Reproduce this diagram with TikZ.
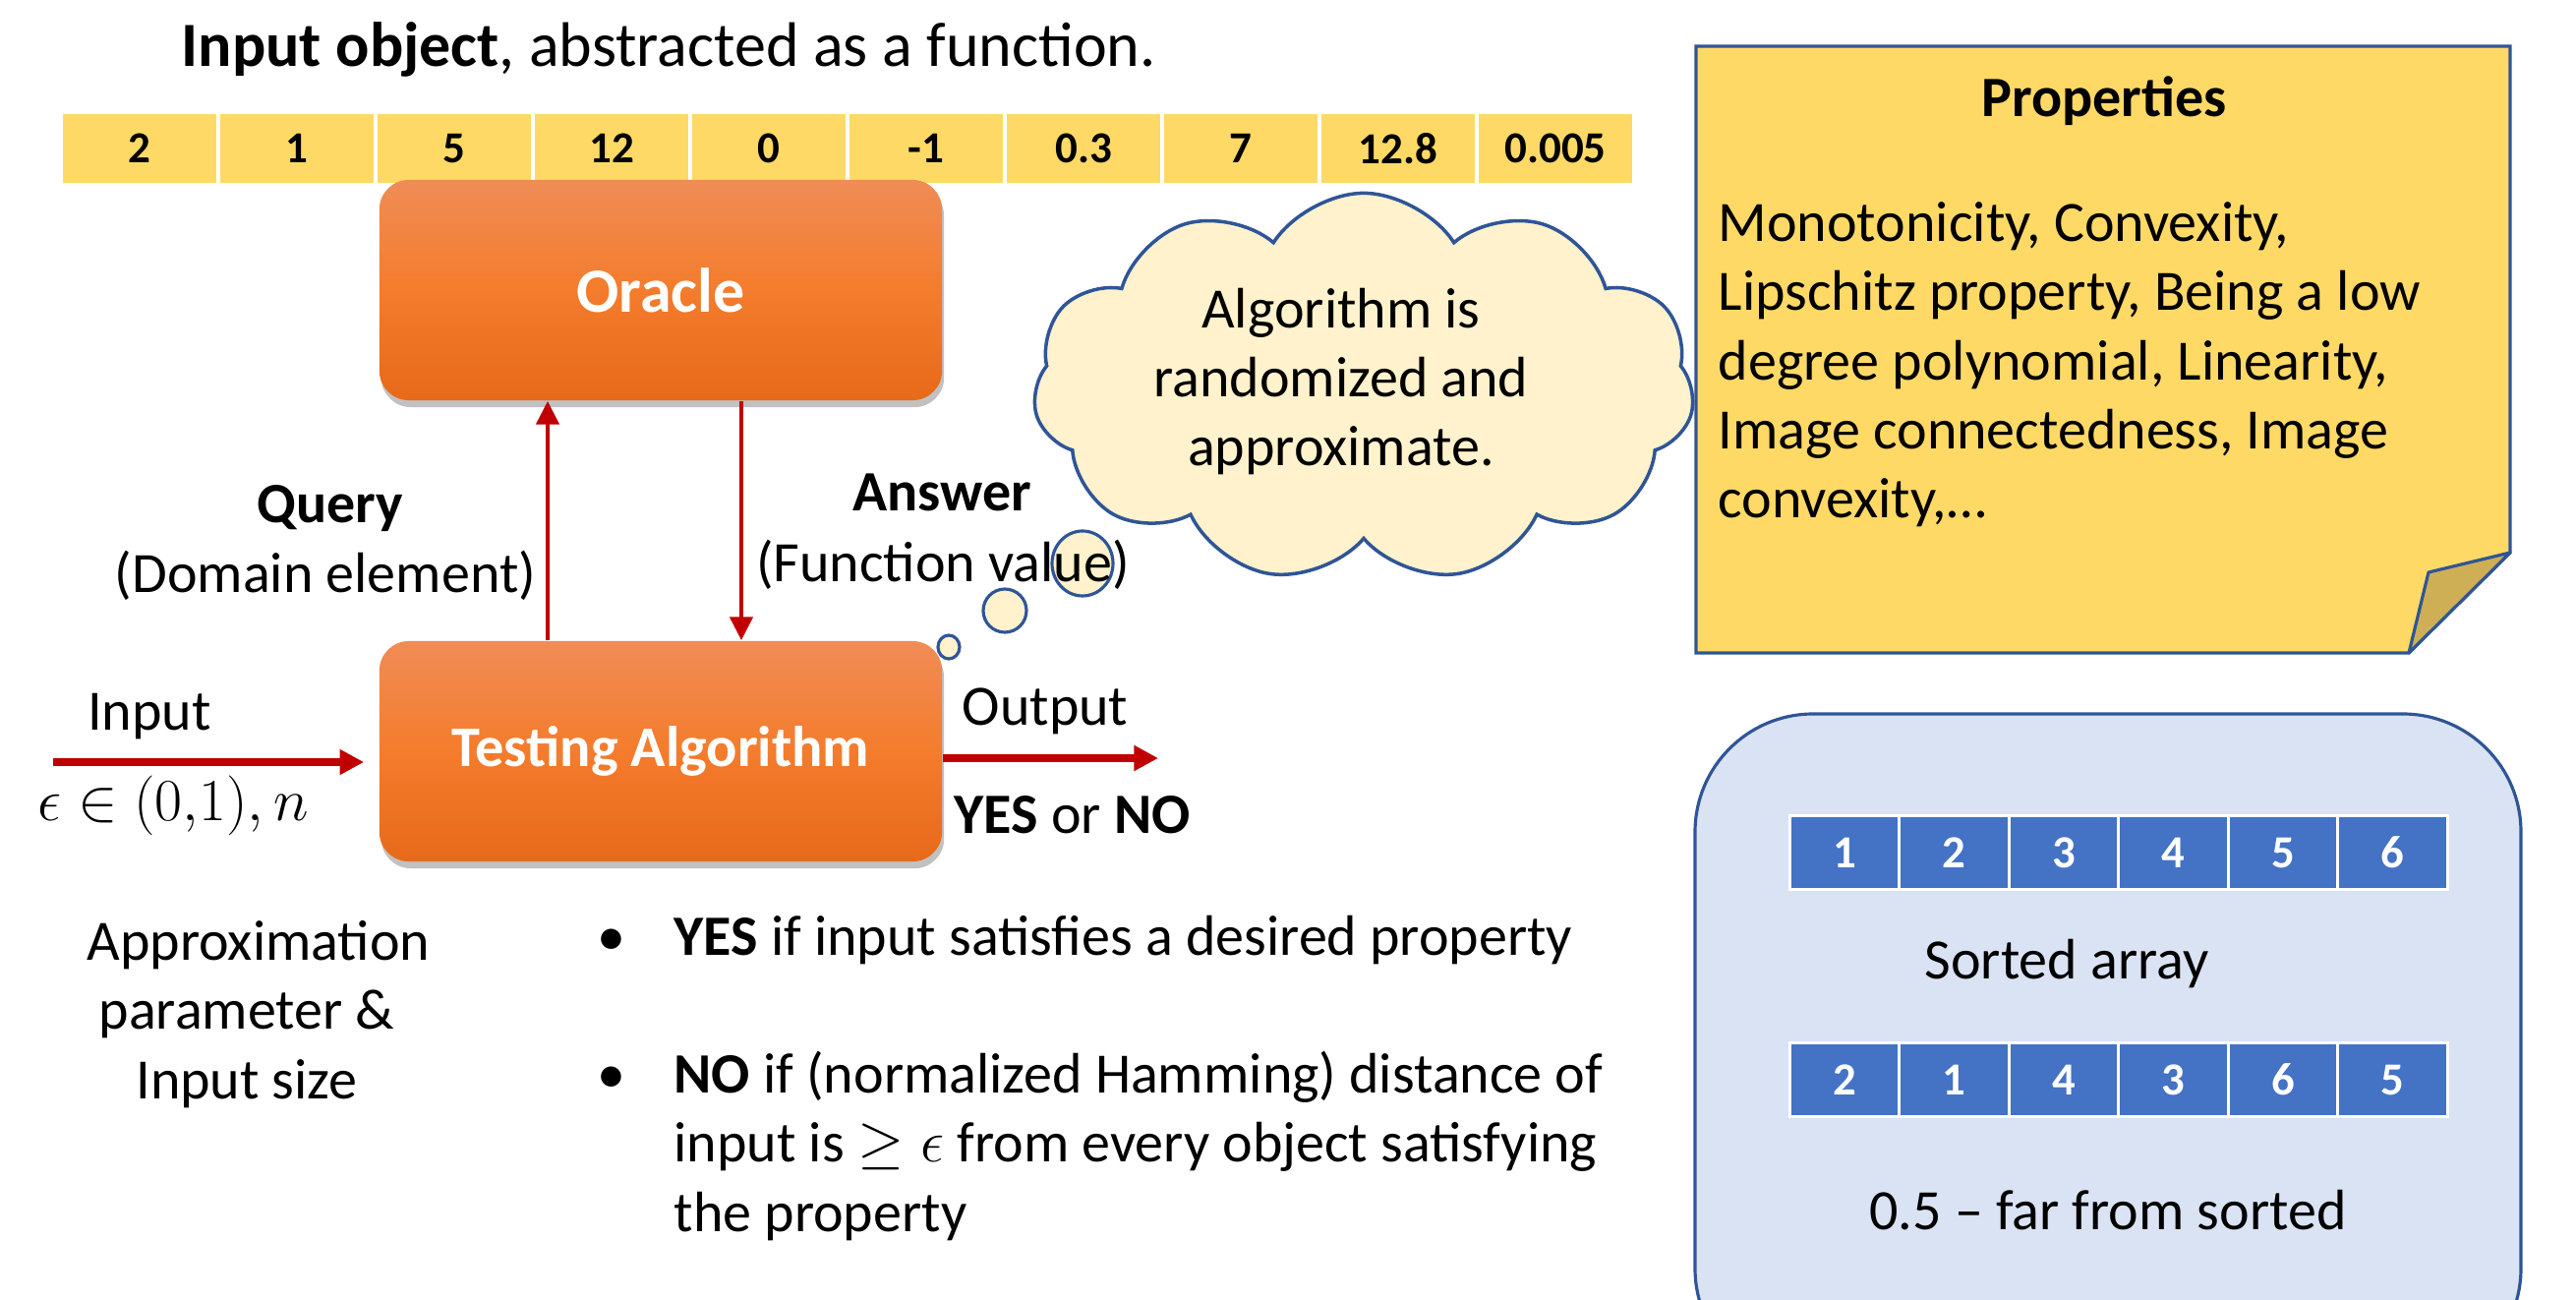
\documentclass[tikz,border=0pt]{standalone}
\usepackage{fontspec}
\setmainfont{Carlito}
\usetikzlibrary{arrows.meta,shapes.symbols,shadows,calc}
\definecolor{gold}{HTML}{FFD966}
\definecolor{folddark}{HTML}{CFAF55}
\definecolor{edgeblue}{HTML}{2F5597}
\definecolor{cellblue}{HTML}{4472C4}
\definecolor{panelblue}{HTML}{DAE3F3}
\definecolor{cloudfill}{HTML}{FFF2CC}
\definecolor{arrowred}{HTML}{C00000}
\definecolor{orangetop}{HTML}{F08C56}
\definecolor{orangemid}{HTML}{F47C2C}
\definecolor{orangebot}{HTML}{E7691A}
\tikzset{
  body/.style={font=\fontsize{16.5}{19.9}\selectfont, inner sep=0pt},
  titletext/.style={font=\fontsize{18.2}{20}\selectfont, inner sep=0pt},
  topcell/.style={fill=gold, draw=white, line width=0.9pt, minimum width=1.6cm, minimum height=0.74cm, inner sep=0pt, font=\fontsize{12.8}{14}\selectfont\bfseries},
  bluecell/.style={fill=cellblue, draw=white, line width=0.9pt, minimum width=1.115cm, minimum height=0.75cm, inner sep=0pt, text=white, font=\fontsize{13.3}{15}\selectfont\bfseries},
  orangebox/.style={rounded corners=0.3cm, minimum width=5.72cm, minimum height=2.24cm, top color=orangetop, bottom color=orangebot, middle color=orangemid, text=white, font=\fontsize{16.6}{20}\selectfont\bfseries, drop shadow={shadow xshift=0.02cm, shadow yshift=-0.07cm, opacity=0.35, fill=black!70}},
  thinarrow/.style={draw=arrowred, line width=1.4pt, -{Triangle[length=6.8pt, width=6.5pt]}},
  thickarrow/.style={draw=arrowred, line width=2.4pt, -{Triangle[length=7pt, width=7pt]}},
  bubble/.style={draw=edgeblue, fill=cloudfill, line width=0.9pt},
}
\begin{document}
\begin{tikzpicture}[x=0.01cm, y=-0.01cm]
\useasboundingbox (0,0) rectangle (2620,1322);

% title
\node[titletext, anchor=base west] (title) at (184,68) {\textbf{Input object}, abstracted as a function.};

% top array
\foreach \v [count=\i from 0] in {2,1,5,12,0,-1,0.3,7,12.8,0.005}
  \node[topcell] (t\i) at ({142+160*\i},151) {\v};

% thought bubbles
\draw[bubble] (965,658) ellipse [x radius=11, y radius=12];
\draw[bubble] (1022,621) ellipse [x radius=22, y radius=22];
\draw[bubble] (1101,573) ellipse [x radius=31, y radius=33];
\node[cloud, cloud puffs=11, cloud puff arc=115, aspect=1.7, draw=edgeblue, fill=cloudfill, line width=1pt, minimum width=6.72cm, minimum height=3.95cm, inner sep=0pt] (cloud) at (1387,394) {};
\node[body, anchor=base] (cl1) at (1364,334) {Algorithm is};
\node[body, anchor=base] (cl2) at (1364,404) {randomized and};
\node[body, anchor=base] (cl3) at (1364,474) {approximate.};

% orange boxes
\node[orangebox, font=\fontsize{18.2}{20}\selectfont\bfseries] (oracle) at (672,295) {Oracle};
\node[orangebox] (testing) at (672,764) {Testing Algorithm};

% arrows
\coordinate (qx) at (557,0);
\coordinate (ax) at (754,0);
\draw[thinarrow] (testing.north -| qx) -- (oracle.south -| qx);
\draw[thinarrow] (oracle.south -| ax) -- (testing.north -| ax);
\coordinate (instart) at (54,775);
\coordinate (outend) at (1178,771);
\draw[thickarrow, shorten >=0.15cm] (instart) -- (instart -| testing.west);
\draw[thickarrow] (testing.east |- outend) -- (outend);

% labels
\node[body, anchor=base] (query) at (336,532) {\textbf{Query}};
\node[body, anchor=base] (domain) at (331,603) {(Domain element)};
\node[body, anchor=base] (answer) at (958,520) {\textbf{Answer}};
\node[body, anchor=base] (fvalue) at (959,592) {(Function value)};
\node[body, anchor=base] (inlabel) at (152,743) {Input};
\node[body, anchor=base] (inparam) at (176,835) {$\epsilon \in (0{,}1), n$};
\node[body, anchor=base west] (outlabel) at (978,738) {Output};
\node[body, anchor=base west] (yesno) at (970,848) {\textbf{YES} or \textbf{NO}};

% approximation parameter
\node[body, anchor=base] (ap1) at (263,977) {Approximation};
\node[body, anchor=base] (ap2) at (251,1047) {parameter \&};
\node[body, anchor=base] (ap3) at (251,1117) {Input size};

% bullets
\node[body, anchor=base] (b1) at (622,972) {•};
\node[body, anchor=base west] (yes1) at (685,972) {\textbf{YES} if input satisfies a desired property};
\node[body, anchor=base] (b2) at (622,1112) {•};
\node[body, anchor=base west] (no1) at (685,1112) {\textbf{NO} if (normalized Hamming) distance of};
\node[body, anchor=base west] (no2) at (685,1182) {input is $\geq\epsilon$ from every object satisfying};
\node[body, anchor=base west] (no3) at (685,1252) {the property};

% properties note
\draw[fill=gold, draw=edgeblue, line width=0.9pt, line join=miter] (1725,47) -- (2553,47) -- (2553,562) -- (2450,664) -- (1725,664) -- cycle;
\draw[fill=folddark, draw=edgeblue, line width=0.9pt, line join=round] (2553,562) -- (2470,582) -- (2450,664) -- cycle;
\node[body, anchor=base] (prophead) at (2140,119) {\textbf{Properties}};
\node[body, anchor=base west] (p1) at (1747,246) {Monotonicity, Convexity,};
\node[body, anchor=base west] (p2) at (1747,316) {Lipschitz property, Being a low};
\node[body, anchor=base west] (p3) at (1747,387) {degree polynomial, Linearity,};
\node[body, anchor=base west] (p4) at (1747,457) {Image connectedness, Image};
\node[body, anchor=base west] (p5) at (1747,527) {convexity,…};

% sorted array panel
\begin{scope}
\clip (0,0) rectangle (2620,1322);
\draw[fill=panelblue, draw=edgeblue, line width=0.9pt, rounded corners=1.2cm] (1724,726) rectangle (2564,1410);
\end{scope}
\foreach \v [count=\i from 0] in {1,2,3,4,5,6}
  \node[bluecell] (s\i) at ({1876+111.5*\i},867) {\v};
\foreach \v [count=\i from 0] in {2,1,4,3,6,5}
  \node[bluecell] (u\i) at ({1876+111.5*\i},1098) {\v};
\node[body, anchor=base] (sortedlbl) at (2102,996) {Sorted array};
\node[body, anchor=base] (farlbl) at (2144,1250) {0.5 – far from sorted};
\end{tikzpicture}
\end{document}
